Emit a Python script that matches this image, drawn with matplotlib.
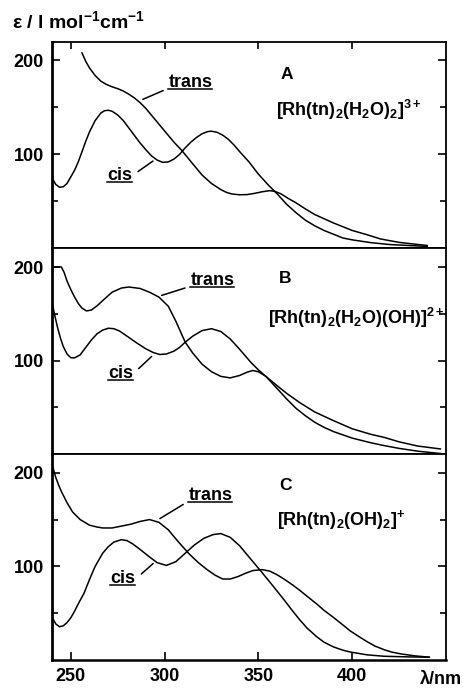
import matplotlib
matplotlib.use('Agg')
import matplotlib.pyplot as plt
from matplotlib.lines import Line2D
from matplotlib.text import Text

plt.rcParams['font.family'] = ['Liberation Sans', 'DejaVu Sans']
plt.rcParams['mathtext.default'] = 'regular'

# ---------------- data (wavelength nm, epsilon) ----------------
wl_A_cis = [240, 242, 244, 246, 248, 250, 252, 254, 256, 258, 260, 263, 266, 268, 270, 272, 275,
            278, 281, 284, 287, 290, 293, 296, 299, 302, 305, 308, 311, 314, 317, 320, 323, 325,
            328, 331, 334, 337, 340, 345, 350, 355, 360, 365, 370, 375, 380, 385, 390, 395, 400,
            410, 420, 430, 440]
eps_A_cis = [75, 68, 65, 65.5, 69, 76, 83, 92, 103, 114, 124, 136, 144, 146.5, 147, 146, 142,
             136, 128, 120, 112, 105, 98.5, 94, 91.5, 92, 95, 100, 107, 113, 118, 122, 124.3,
             124.7, 123.5, 120.5, 116, 110, 103, 92, 79, 68, 58, 47, 38, 30, 24, 19, 15, 11, 9,
             6, 4, 3, 2]

wl_A_trans = [256, 258, 260, 263, 266, 269, 272, 275, 278, 281, 284, 287, 290, 295, 300, 305, 309,
              315, 320, 325, 330, 333, 336, 340, 344, 348, 352, 356, 359, 362, 366, 370, 375, 380,
              390, 400, 408, 415, 425, 433, 440]
eps_A_trans = [208, 199, 192, 184, 178, 174.5, 172, 170, 167.5, 164, 160, 155, 149, 137, 125, 113,
               104.6, 90, 78, 69, 62.5, 59.5, 57.8, 57, 57.2, 58.5, 60.2, 61.4, 60.5, 58, 53,
               48.5, 42, 36, 27, 19, 14.4, 10, 6.3, 4.5, 3]

wl_B_cis = [240, 241.5, 243, 244.5, 246, 248, 250, 252, 255, 258, 261, 264, 267, 270, 273, 276,
            280, 285, 290, 294, 297.5, 301, 305, 308, 311, 315, 320, 325, 330, 335, 340, 346,
            350, 354, 360, 365, 370, 375, 380, 385, 390, 400, 410, 417, 425, 435, 447]
eps_B_cis = [162, 148, 135, 124, 115, 107, 103, 102.8, 106, 114, 122, 128.5, 132.5, 134.5, 134,
             131.5, 126, 119, 112.5, 108.5, 106.4, 107, 110, 114, 119.6, 126, 132, 134, 131, 123,
             112, 98, 90, 83, 70, 59, 49, 41, 34, 28.5, 24, 17, 12, 9, 6, 3, 0.5]

wl_B_trans = [240, 245, 246.5, 248, 250, 252, 254, 256, 258.4, 261, 264, 267, 272, 277, 281, 287,
              292, 297, 302, 306, 311, 315, 320, 325, 330, 335, 340, 344, 347, 350, 354, 360,
              365, 372, 380, 390, 400, 410, 417, 425, 435, 447]
eps_B_trans = [200, 200, 194, 185, 176, 168, 161, 156, 153, 154, 158.5, 164, 173, 177.5, 178.6,
               177, 173, 167.8, 158, 142, 119.6, 108, 96, 88, 83, 81.4, 84, 87.5, 89.3, 88, 83,
               73, 65, 55, 45, 35.7, 27, 21, 17.8, 13, 8.5, 5.4]

wl_C_cis = [240, 242, 244, 246, 248, 250, 252, 254, 257, 260, 263, 267, 270, 273, 277, 280, 283,
            287, 292, 296, 301, 306, 311, 316, 321, 326, 330, 335, 340, 345, 351, 357, 363, 368,
            372, 376, 381, 385, 390, 395, 399, 408, 417, 430, 441]
eps_C_cis = [46, 38.5, 35.5, 36.5, 40, 45, 52, 60, 71, 86, 100, 114, 121, 126, 128.5, 127.5, 124,
             118, 110, 104, 101, 105, 114, 123, 130, 134, 135, 131, 122, 110, 95.7, 81, 66, 53,
             43, 34, 25, 19, 14, 10.5, 8.5, 5.5, 4, 3.3, 3]

wl_C_trans = [240, 241, 242, 243.5, 245, 248, 251, 255, 260, 264, 267, 272, 277, 282, 287, 292,
              297, 302, 307, 313, 318, 323, 327, 331, 335, 339, 343, 347, 352, 356, 360, 364, 368,
              372, 376, 381, 385, 390, 395, 399, 404, 408, 412, 417, 421, 426, 433, 441]
eps_C_trans = [210, 202, 195, 187, 180, 168, 158, 150, 144, 142, 141, 141, 143, 145, 148, 150, 147,
               139, 127, 113.5, 104, 96, 90.5, 86.5, 86.5, 89, 92.5, 95.5, 96.5, 95, 91, 86, 80.5,
               74.5, 68, 60, 53, 45.5, 37.5, 31, 24.5, 19.5, 15, 11, 8.5, 6.5, 4.5, 3]

panels = ['A', 'B', 'C']
formulas = [r"[Rh(tn)$_2$(H$_2$O)$_2$]$^{3+}$",
            r"[Rh(tn)$_2$(H$_2$O)(OH)]$^{2+}$",
            r"[Rh(tn)$_2$(OH)$_2$]$^{+}$"]
xticks = [250, 300, 350, 400]
yticks_major = [100, 200]
yticks_minor = [50, 150]

series = [
    (wl_A_cis, eps_A_cis, wl_A_trans, eps_A_trans),
    (wl_B_cis, eps_B_cis, wl_B_trans, eps_B_trans),
    (wl_C_cis, eps_C_cis, wl_C_trans, eps_C_trans),
]

# label placements (data coords): trans text, trans leader tip, cis text, cis leader tip
trans_txt = [(313.8, 176.7), (325.5, 185.7), (324.4, 175.8)]
trans_tip = [(288.4, 158.6), (298.4, 169.6), (297.5, 151.0)]
cis_txt = [(275.9, 78.0), (276.4, 86.4), (277.8, 87.2)]
cis_tip = [(293.8, 92.9), (293.1, 104.3), (293.9, 103.0)]
letter_pos = [(365.3, 185), (364.3, 188), (364.5, 186)]
formula_pos = [(398, 147), (402, 145), (394, 149)]

fig = plt.figure(figsize=(4.64, 6.88), dpi=100)
W, H = 464.0, 688.0
left = 52 / W
width = (446 - 52) / W
edges = [41.7, 248.3, 454.0, 660.0]

label_texts = []
for i in range(3):
    top, bot = edges[i], edges[i + 1]
    ax = fig.add_axes([left, 1 - bot / H, width, (bot - top) / H])
    wc, ec, wt, et = series[i]
    ax.plot(wc, ec, color='black', lw=1.1, solid_joinstyle='round')
    ax.plot(wt, et, color='black', lw=1.1, solid_joinstyle='round')
    ax.set_xlim(240, 450)
    ax.set_ylim(0, 220)
    ax.set_xticks(xticks)
    ax.set_yticks(yticks_major)
    ax.set_yticks(yticks_minor, minor=True)
    ax.tick_params(axis='y', which='both', direction='in', left=True, right=True,
                   labelleft=True, labelright=False, width=1.2, pad=6,
                   labelsize=13)
    ax.tick_params(axis='y', which='major', length=6)
    ax.tick_params(axis='y', which='minor', length=4)
    for t in ax.get_yticklabels():
        t.set_fontweight('bold')
    if i == 0:
        ax.tick_params(axis='x', direction='in', top=True, bottom=False,
                       labeltop=False, labelbottom=False, length=5, width=1.2)
    elif i == 1:
        ax.tick_params(axis='x', top=False, bottom=False, labeltop=False, labelbottom=False)
    else:
        ax.tick_params(axis='x', direction='in', top=False, bottom=True,
                       labelbottom=True, length=6, width=1.2, pad=6, labelsize=13)
        for t in ax.get_xticklabels():
            t.set_fontweight('bold')
        ax.text(462 / W, 1 - 680 / H, 'λ/nm', transform=fig.transFigure, ha='right',
                va='center', fontsize=13, fontweight='bold')
    for s in ['top', 'right', 'bottom']:
        ax.spines[s].set_linewidth(1.3)
    ax.spines['left'].set_linewidth(2.0)
    if i == 2:
        ax.spines['bottom'].set_linewidth(1.8)

    tt = ax.annotate('trans', xy=trans_tip[i], xytext=trans_txt[i], ha='center', va='center',
                     fontsize=13, fontweight='bold',
                     arrowprops=dict(arrowstyle='-', lw=1.1, color='black',
                                     relpos=(0.0, 0.15), shrinkA=2, shrinkB=0))
    ct = ax.annotate('cis', xy=cis_tip[i], xytext=cis_txt[i], ha='center', va='center',
                     fontsize=13, fontweight='bold',
                     arrowprops=dict(arrowstyle='-', lw=1.1, color='black',
                                     relpos=(1.0, 0.45), shrinkA=3, shrinkB=0))
    label_texts += [tt, ct]
    ax.text(*letter_pos[i], panels[i], ha='center', va='center', fontsize=12.5, fontweight='bold')
    ax.text(*formula_pos[i], formulas[i], ha='center', va='center', fontsize=13,
            fontweight='bold')

fig.text(12 / W, 1 - 21 / H, r'ε / l mol$^{-1}$cm$^{-1}$', ha='left', va='center',
         fontsize=14, fontweight='bold')

# underlines for cis / trans labels
fig.canvas.draw()
renderer = fig.canvas.get_renderer()
for t in label_texts:
    bb = Text.get_window_extent(t, renderer)
    y = bb.y0 + 1.5
    fig.add_artist(Line2D([bb.x0 / W, bb.x1 / W], [y / H, y / H], transform=fig.transFigure,
                          color='black', lw=1.1))

fig.savefig('out.png', dpi=100)
